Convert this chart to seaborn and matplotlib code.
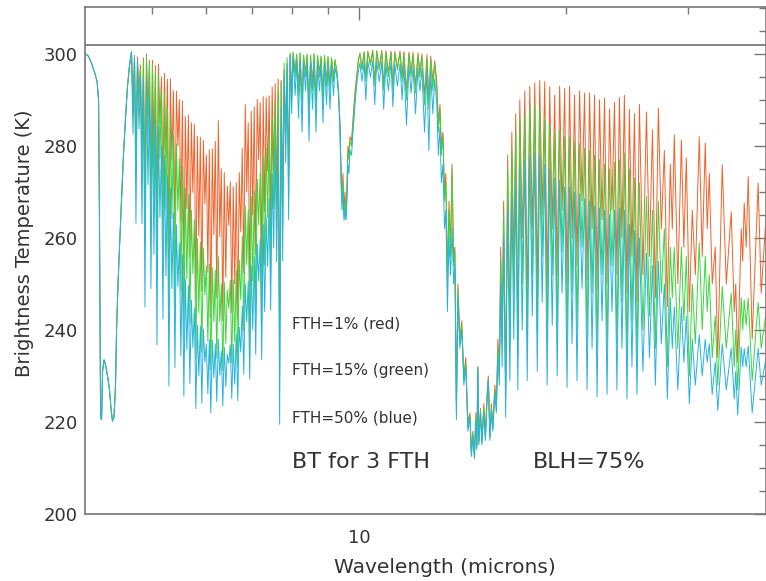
import matplotlib
matplotlib.use("Agg")
import matplotlib.pyplot as plt
import seaborn as sns
from matplotlib.ticker import FixedLocator, FixedFormatter, NullFormatter, MultipleLocator

sns.set_theme(style="white")
plt.rcParams['font.family'] = ['DejaVu Sans']

# ---------------- data (wavelength in microns, brightness temperature in K) ----------------
wavelength = [
    # 4.3 um CO2 band
    4.007, 4.047, 4.088, 4.130, 4.165, 4.186, 4.200, 4.214, 4.228, 4.242, 4.263, 4.284, 4.313, 4.342,
    4.363, 4.385, 4.407, 4.430, 4.445, 4.467, 4.489, 4.519, 4.549, 4.580, 4.611, 4.642, 4.673,
    # 6.3 um water vapour band
    4.696, 4.720, 4.743, 4.767, 4.791, 4.815, 4.839, 4.863, 4.888, 4.913,
    4.937, 4.962, 4.987, 5.012, 5.037, 5.062, 5.088, 5.113, 5.139, 5.165,
    5.191, 5.217, 5.243, 5.269, 5.296, 5.322, 5.349, 5.376, 5.403, 5.430,
    5.457, 5.484, 5.512, 5.540, 5.567, 5.595, 5.623, 5.652, 5.680, 5.709,
    5.737, 5.766, 5.795, 5.824, 5.853, 5.883, 5.912, 5.942, 5.972, 6.002,
    6.032, 6.062, 6.092, 6.123, 6.154, 6.184, 6.215, 6.247, 6.278, 6.310,
    6.341, 6.373, 6.405, 6.437, 6.469, 6.502, 6.534, 6.567, 6.600, 6.634,
    6.667, 6.700, 6.734, 6.768, 6.802, 6.836, 6.870, 6.904, 6.939, 6.974,
    7.009, 7.044, 7.079, 7.115, 7.150, 7.186, 7.222, 7.258, 7.295, 7.332,
    7.368, 7.405, 7.442, 7.480, 7.517, 7.555, 7.593, 7.631, 7.669, 7.708,
    7.747, 7.785, 7.825, 7.864, 7.903, 7.943,
    # 8-9.3 um window
    7.983, 8.023, 8.077, 8.117, 8.171, 8.212, 8.267, 8.308, 8.364, 8.406, 8.462, 8.504, 8.561, 8.604,
    8.662, 8.705, 8.763, 8.807, 8.866, 8.911, 8.970, 9.015, 9.076, 9.122, 9.182, 9.229, 9.290,
    # 9.6 um ozone
    9.337, 9.384, 9.415, 9.447, 9.478, 9.510, 9.542, 9.573, 9.605, 9.637, 9.669, 9.704, 9.753, 9.802,
    9.868, 9.934, 9.984,
    # 10-13 um window
    10.03, 10.10, 10.17, 10.23, 10.30, 10.39, 10.47, 10.54, 10.61, 10.70, 10.79, 10.86, 10.94, 11.03,
    11.13, 11.20, 11.27, 11.37, 11.47, 11.55, 11.62, 11.72, 11.82, 11.90, 11.98, 12.08, 12.18, 12.26,
    12.34, 12.45, 12.55, 12.63, 12.71, 12.80, 12.88,
    # 15 um CO2 band
    12.97, 13.04, 13.11, 13.17, 13.24, 13.31, 13.37, 13.44, 13.51, 13.58, 13.65, 13.72, 13.78, 13.85,
    13.92, 14.01, 14.10, 14.20, 14.29, 14.39, 14.49, 14.56, 14.63, 14.71, 14.78, 14.83, 14.88, 14.93,
    15.01, 15.08, 15.18, 15.26, 15.33, 15.41, 15.49, 15.57, 15.64, 15.75, 15.83, 15.91, 15.99, 16.06,
    16.14, 16.22,
    # rotational water band
    16.33, 16.44, 16.56, 16.67, 16.78, 16.89, 17.01, 17.12,
    17.26, 17.41, 17.55, 17.70, 17.85, 18.00, 18.15, 18.30, 18.45, 18.61,
    18.76, 18.92, 19.08, 19.24, 19.40, 19.56, 19.72, 19.89, 20.05, 20.22,
    20.39, 20.56, 20.73, 20.91, 21.08, 21.26, 21.44, 21.62, 21.80, 21.98,
    22.17, 22.35, 22.54, 22.73, 22.92, 23.11, 23.30, 23.50, 23.69, 23.89,
    24.09, 24.29, 24.50, 24.70, 24.91, 25.12, 25.33, 25.54,
    25.84, 26.15, 26.41, 26.68, 26.94, 27.21, 27.48, 27.76, 28.04, 28.32,
    28.51, 28.70, 29.04, 29.39, 29.63, 29.88, 30.18, 30.48, 30.79, 31.20,
    31.51, 31.83, 32.04, 32.26, 32.58, 32.91, 33.19, 33.69, 34.15, 34.72,
    35.07, 35.25, 35.48, 35.90, 36.08, 36.26, 36.50, 36.75, 37.24, 37.99,
    38.38, 39.02, 39.47,
]

bt_co2_43 = [300.0, 299.5, 298.0, 296.0, 294.0, 290.0, 260.0, 221.0, 220.5, 231.0, 233.5, 232.5, 230.0,
             227.0, 223.0, 220.2, 221.0, 228.0, 240.0, 250.0, 258.0, 268.0, 278.0, 286.0, 293.0, 297.5, 300.5]

bt_red = bt_co2_43 + [
    289.2, 299.7, 278.7, 299.3, 291.7, 297.6, 280.4, 299.1, 270.0, 300.0,
    287.1, 298.6, 273.1, 298.6, 278.4, 297.5, 265.2, 297.8, 284.8, 295.0,
    269.4, 295.8, 277.3, 294.5, 257.6, 294.6, 276.9, 292.0, 260.9, 291.9,
    280.0, 290.1, 263.5, 289.8, 252.5, 286.4, 266.4, 286.7, 256.0, 285.0,
    269.9, 284.8, 246.7, 282.1, 260.4, 281.9, 248.5, 281.2, 267.4, 278.0,
    252.5, 279.2, 242.8, 279.4, 260.7, 281.0, 247.0, 285.5, 260.3, 275.0,
    242.1, 274.2, 251.5, 271.3, 262.7, 272.2, 243.8, 271.1, 250.0, 272.0,
    242.2, 274.2, 261.4, 279.4, 252.4, 289.0, 270.0, 285.0, 249.5, 287.5,
    265.0, 288.5, 256.4, 290.1, 277.0, 289.4, 253.5, 290.7, 265.8, 290.5,
    274.5, 290.9, 262.6, 292.8, 274.3, 293.5, 270.1, 294.5, 240.0, 294.3,
    270.0, 296.5, 283.6, 298.0, 274.0, 300.0,
    292, 300.2, 296, 299.8, 293, 300, 290, 299.5, 296, 299.7, 289, 299.5, 294, 299.8,
    290, 299.5, 296, 299.3, 291, 299.4, 294, 299.2, 293, 299, 295, 298.5, 296,
    292, 285, 276, 270, 274, 266, 270, 265, 272, 280, 278, 282, 281, 286, 292, 296, 299,
    300.2, 297, 300.5, 295, 300.6, 298, 300.8, 294, 300.7, 297, 300.8, 293, 300.7, 296,
    300.6, 293, 300.5, 297, 300.6, 295, 300.5, 292, 300.4, 296, 300.3, 293, 300.2, 296,
    300, 291, 299.8, 290, 299.5, 294, 298.5,
    294, 285, 289, 280, 283, 270, 274, 252, 268, 258, 276, 256, 258, 224,
    250, 238, 242, 230, 234, 220, 222, 213.5, 218, 213, 222, 215, 232, 216,
    223, 216, 224, 217, 225, 230, 217, 224, 219, 228, 224, 238, 232, 258,
    240, 268,
    228, 278, 240, 283, 255, 287, 238, 290,
    260, 292, 246, 293, 262, 293.7, 250, 294.2, 265, 294,
    249, 292.9, 262, 291, 252, 293, 266, 292.5, 250, 293,
    260, 291, 254, 292, 268, 291.5, 251, 291.5, 262, 291,
    249, 290, 264, 290.4, 250, 288, 266, 289.5, 252, 290.5,
    260, 291, 248, 288, 256, 287, 246, 289,
    252, 287.4, 256, 283.5, 247, 288.2, 262, 279, 245, 276,
    262, 282.4, 250, 281.3, 258, 277.4, 244, 266, 252, 282,
    256, 280.6, 262, 274, 250, 258, 234, 275.9, 250, 265.7,
    244, 250, 233, 262, 255, 267.6, 258, 273.3, 238, 271.9,
    248, 265, 240,
]

bt_green = bt_co2_43 + [
    286.2, 299.4, 272.9, 298.6, 288.8, 296.7, 274.0, 298.4, 260.0, 299.5,
    282.0, 297.9, 262.1, 297.7, 269.1, 296.0, 250.6, 295.5, 277.2, 292.0,
    256.3, 291.3, 266.3, 288.5, 241.5, 287.0, 264.2, 282.5, 244.9, 280.5,
    266.0, 277.2, 248.5, 275.6, 238.0, 270.9, 251.1, 269.5, 241.4, 266.0,
    252.2, 264.0, 233.8, 259.9, 243.8, 259.1, 235.1, 257.8, 247.6, 254.0,
    237.5, 254.3, 231.4, 253.6, 241.8, 253.0, 233.9, 256.0, 241.8, 250.0,
    231.2, 250.4, 237.1, 248.7, 244.7, 250.8, 232.8, 250.9, 237.3, 253.0,
    231.9, 255.2, 246.6, 260.4, 239.9, 267.0, 254.2, 266.2, 237.7, 269.0,
    250.6, 270.3, 243.6, 272.8, 262.9, 274.2, 241.5, 277.6, 254.1, 279.5,
    264.4, 282.0, 252.2, 286.0, 266.3, 289.5, 262.0, 292.0, 230.0, 294.0,
    262.0, 298.0, 280.5, 299.2, 269.0, 300.2,
    290, 300.4, 295, 300, 291, 300.3, 288, 299.8, 295, 300, 287, 299.8, 292, 300.1,
    288, 299.7, 295, 299.6, 289, 299.7, 293, 299.5, 292, 299.2, 294, 298.8, 296,
    292, 284, 274, 268, 272, 265, 268, 264, 270, 279, 277, 281, 280, 285, 291, 295.5, 298.5,
    300, 296.5, 300.3, 294, 300.4, 297.5, 300.5, 293, 300.4, 296.5, 300.5, 292, 300.3, 295,
    300.3, 292, 300.2, 296.5, 300.2, 294, 300.1, 290, 300, 295, 299.8, 291.5, 299.6, 295,
    299.5, 289, 299.2, 288, 298.8, 292, 297.8,
    292.5, 283, 288, 278, 282, 268, 272, 250, 266, 256, 275, 254, 257, 222,
    249, 237, 241, 229, 233, 219, 221.5, 213, 217.5, 212.5, 221, 214.5, 232, 215.5,
    222.5, 215.5, 223, 216.5, 224, 229.5, 216.5, 223, 218.5, 227, 223, 236, 230, 255,
    237, 265,
    225, 275, 236, 279, 248, 283, 234, 286,
    250, 287, 238, 288.5, 252, 289, 240, 288, 256, 286,
    238, 285, 252, 283, 240, 283.5, 257, 282, 238, 282,
    248, 281, 240, 280.5, 258, 279.5, 238, 279, 248, 278,
    236, 277, 252, 276, 236, 275, 254, 276.5, 237, 277,
    246, 278.5, 234, 275, 242, 273, 233, 272,
    240, 269, 243, 266, 236, 268, 248, 262, 232, 258,
    247, 258, 236, 258, 242, 256, 230, 250, 237, 259,
    240, 256, 244, 252, 234, 243, 228, 249.5, 236, 248,
    232, 240, 227, 247, 240, 246.5, 241, 247, 229, 246,
    236, 244, 232,
]

bt_blue = bt_co2_43 + [
    282.6, 299.5, 263.2, 298.0, 283.7, 295.1, 263.1, 294.8, 245.0, 294.0,
    271.6, 290.4, 249.0, 288.4, 256.5, 285.5, 236.8, 284.3, 264.5, 280.0,
    242.4, 277.8, 251.8, 273.5, 227.8, 270.8, 249.0, 265.5, 231.8, 262.8,
    249.5, 258.8, 234.4, 256.4, 225.6, 251.1, 235.7, 249.7, 228.3, 246.5,
    236.2, 244.8, 222.9, 241.1, 230.1, 240.9, 224.1, 240.2, 233.0, 237.0,
    226.1, 237.9, 222.0, 237.8, 229.6, 237.0, 224.4, 238.0, 230.2, 235.5,
    223.5, 236.2, 227.7, 234.7, 232.8, 236.8, 225.1, 236.9, 228.2, 239.0,
    224.6, 240.6, 235.2, 245.2, 230.4, 250.0, 241.7, 250.6, 229.3, 254.0,
    240.1, 255.9, 234.7, 258.7, 250.7, 259.8, 233.5, 262.9, 244.0, 264.5,
    253.8, 268.5, 244.3, 274.0, 257.8, 279.5, 254.8, 283.8, 219.5, 288.4,
    255.0, 295.0, 276.3, 297.5, 264.0, 299.5,
    287, 299.5, 291, 298.5, 286, 298.5, 283, 298, 292, 298.3, 281, 298, 288, 298.5,
    283, 298, 292, 297.8, 285, 298, 289, 297.6, 288, 297.5, 291, 297, 295,
    291, 283, 272, 266, 270, 263.8, 266, 264, 268, 276, 274, 279, 278, 283, 289, 294, 296.5,
    298, 294, 298.2, 290, 298.4, 295, 298.5, 289, 298.3, 294, 298.2, 288, 298, 292,
    298.1, 288.5, 297.8, 293, 297.8, 290, 297.6, 284.5, 297.5, 291.5, 297.2, 287, 297, 292,
    296.8, 283, 296.5, 279, 296, 287, 294.5,
    289, 278, 284, 272, 276, 262, 266, 244, 260, 252, 262, 250, 254, 220.5,
    247, 236, 240, 228, 232, 218, 221, 212.5, 217, 212, 220, 214, 231.5, 215,
    222, 215, 222, 216, 223, 229, 216, 222.5, 218, 226, 222, 234, 228, 250,
    232, 260,
    221, 266, 229, 269, 238, 272, 227, 275.5,
    240, 277, 229, 278, 243, 278.5, 231, 278, 246, 276,
    228, 275, 241, 273, 230, 272.5, 248, 271, 227.5, 271,
    237, 270, 229, 269.5, 249, 268.5, 227, 268, 236, 267,
    225.5, 266.5, 242, 266, 226, 265, 244, 266, 227, 266.5,
    236, 266, 225, 263, 232, 261.5, 226, 260,
    231, 256.7, 234, 254, 228, 255, 237, 250, 225, 247,
    236, 245, 227, 245, 233, 243, 224, 238, 228, 239,
    230, 238, 233, 237, 226, 233, 222.5, 237, 227, 236,
    225, 231, 221.5, 236.3, 232, 236, 232, 236.5, 222, 236,
    228, 234, 225,
]

reference_bt = 302
series_colors = ['#f0622a', '#3ad63a', '#26b2e2']
x_major_ticks = [10]
x_major_labels = ['10']
x_minor_ticks = [5, 6, 7, 8, 9, 20, 30]
y_major_ticks = [200, 220, 240, 260, 280, 300]
annotations = [
    (8.0, 241.2, "FTH=1% (red)", 11),
    (8.0, 231.1, "FTH=15% (green)", 11),
    (8.0, 220.9, "FTH=50% (blue)", 11),
    (8.0, 211.3, "BT for 3 FTH", 16),
    (17.87, 211.3, "BLH=75%", 16),
]

for s in (bt_red, bt_green, bt_blue):
    assert len(s) == len(wavelength), (len(s), len(wavelength))

# ---------------- figure ----------------
fig = plt.figure(figsize=(7.66, 5.81), dpi=100)
ax = fig.add_axes([85 / 766, 67 / 581, 681 / 766, 507 / 581])

for vals, col in zip((bt_red, bt_green, bt_blue), series_colors):
    sns.lineplot(x=wavelength, y=vals, ax=ax, color=col, linewidth=0.7,
                 estimator=None, sort=False, legend=False)

ax.axhline(reference_bt, color='#707070', linewidth=1.2, zorder=5)

ax.set_xscale('log')
ax.set_xlim(4.0, 39.0)
ax.set_ylim(200, 310.2)

ax.xaxis.set_major_locator(FixedLocator(x_major_ticks))
ax.xaxis.set_major_formatter(FixedFormatter(x_major_labels))
ax.xaxis.set_minor_locator(FixedLocator(x_minor_ticks))
ax.xaxis.set_minor_formatter(NullFormatter())
ax.yaxis.set_major_locator(FixedLocator(y_major_ticks))
ax.yaxis.set_minor_locator(MultipleLocator(5))

ax.tick_params(which='both', direction='in', top=True, right=True, color='#777777',
               labelsize=13, labelcolor='#333333')
ax.tick_params(which='major', length=9, width=1)
ax.tick_params(which='minor', length=5, width=1)
ax.tick_params(axis='y', which='major', pad=5)
ax.tick_params(axis='x', which='major', pad=11)

for sp in ax.spines.values():
    sp.set_color('#777777')
    sp.set_linewidth(1.2)

ax.set_ylabel("Brightness Temperature (K)", fontsize=14, color='#333333')
ax.yaxis.set_label_coords(-0.075, 0.535)
ax.set_xlabel("Wavelength (microns)", fontsize=14.5, color='#333333')
ax.xaxis.set_label_coords(0.529, -0.087)

for x, y, txt, fs in annotations:
    ax.text(x, y, txt, fontsize=fs, color='#333333', va='center', ha='left')

fig.savefig('out.png', dpi=100)
